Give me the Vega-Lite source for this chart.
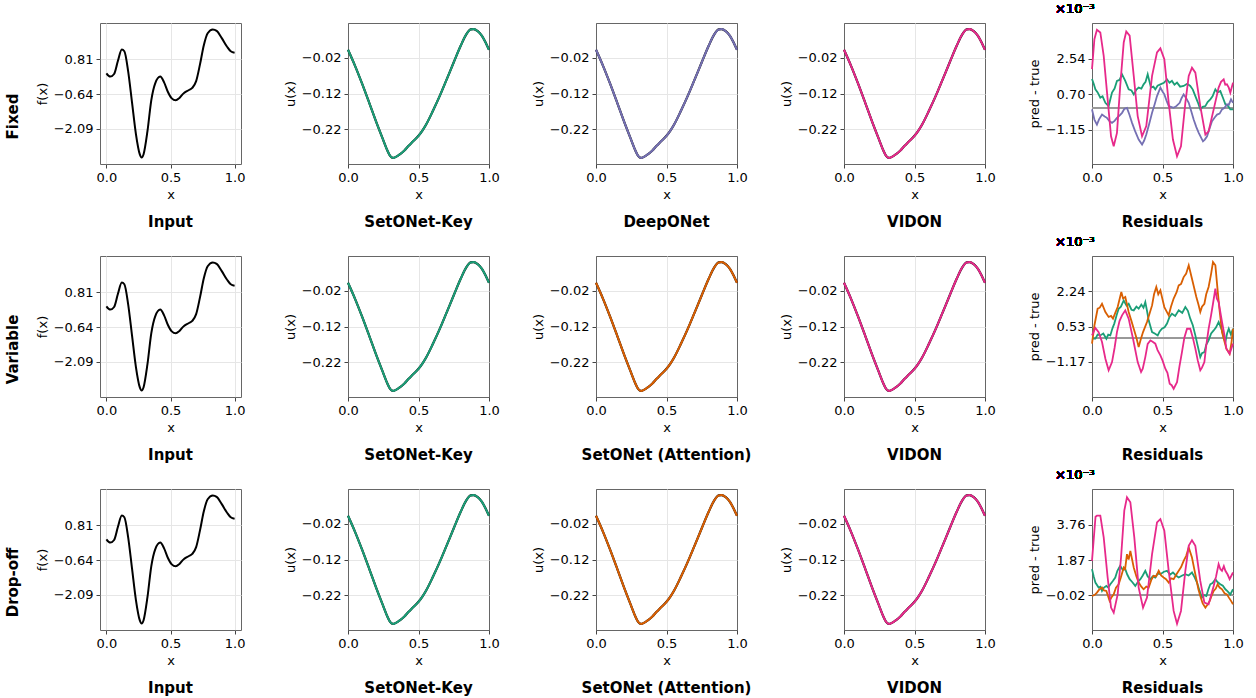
{
  "$schema": "https://vega.github.io/schema/vega-lite/v6.json",
  "background": "white",
  "padding": {"left": 5, "top": 2, "right": 5, "bottom": 5},
  "config": {
    "font": "DejaVu Sans",
    "view": {"stroke": "#666", "strokeWidth": 1},
    "axis": {"labelFont": "DejaVu Sans", "labelFontSize": 13, "labelColor": "black", "titleFont": "DejaVu Sans", "titleFontSize": 13, "titleFontWeight": "normal", "titleColor": "black", "tickColor": "#444", "tickSize": 4, "domain": false, "grid": true, "gridColor": "#e6e6e6", "labelPadding": 3, "labelFlush": false, "labelOverlap": false},
    "axisX": {"titlePadding": 4},
    "axisY": {"titlePadding": 4},
    "title": {"font": "DejaVu Sans", "fontSize": 15, "fontWeight": "bold", "color": "black"}
  },
  "datasets": {
    "input": [
      {"x": 0.0, "f": 0.23}, {"x": 0.03, "f": 0.09}, {"x": 0.06, "f": 0.2}, {"x": 0.09, "f": 0.75}, {"x": 0.12, "f": 1.22}, {"x": 0.14, "f": 1.15}, {"x": 0.17, "f": 0.3}, {"x": 0.2, "f": -1.0}, {"x": 0.23, "f": -2.3}, {"x": 0.26, "f": -3.15}, {"x": 0.275, "f": -3.29}, {"x": 0.29, "f": -3.15}, {"x": 0.32, "f": -2.2}, {"x": 0.35, "f": -0.9}, {"x": 0.38, "f": -0.2}, {"x": 0.42, "f": 0.09}, {"x": 0.45, "f": -0.15}, {"x": 0.48, "f": -0.55}, {"x": 0.51, "f": -0.82}, {"x": 0.54, "f": -0.9}, {"x": 0.57, "f": -0.8}, {"x": 0.6, "f": -0.62}, {"x": 0.64, "f": -0.48}, {"x": 0.67, "f": -0.38}, {"x": 0.7, "f": -0.1}, {"x": 0.73, "f": 0.6}, {"x": 0.76, "f": 1.4}, {"x": 0.79, "f": 1.9}, {"x": 0.83, "f": 2.06}, {"x": 0.86, "f": 2.0}, {"x": 0.9, "f": 1.7}, {"x": 0.94, "f": 1.35}, {"x": 0.97, "f": 1.15}, {"x": 1.0, "f": 1.09}
    ],
    "u": [
      {"x": 0.0, "u": 0.003}, {"x": 0.05, "u": -0.042}, {"x": 0.1, "u": -0.092}, {"x": 0.15, "u": -0.145}, {"x": 0.2, "u": -0.199}, {"x": 0.25, "u": -0.25}, {"x": 0.28, "u": -0.28}, {"x": 0.3, "u": -0.295}, {"x": 0.32, "u": -0.3}, {"x": 0.34, "u": -0.297}, {"x": 0.37, "u": -0.289}, {"x": 0.4, "u": -0.279}, {"x": 0.43, "u": -0.266}, {"x": 0.46, "u": -0.254}, {"x": 0.5, "u": -0.238}, {"x": 0.53, "u": -0.222}, {"x": 0.56, "u": -0.202}, {"x": 0.6, "u": -0.17}, {"x": 0.65, "u": -0.127}, {"x": 0.7, "u": -0.08}, {"x": 0.75, "u": -0.032}, {"x": 0.8, "u": 0.015}, {"x": 0.84, "u": 0.047}, {"x": 0.87, "u": 0.06}, {"x": 0.89, "u": 0.061}, {"x": 0.92, "u": 0.055}, {"x": 0.95, "u": 0.042}, {"x": 0.98, "u": 0.02}, {"x": 1.0, "u": 0.003}
    ],
    "res": [
      {"row": "Fixed", "model": "SetONet-Key", "x": 0, "r": 1.5}, {"row": "Fixed", "model": "SetONet-Key", "x": 0.012, "r": 1.25}, {"row": "Fixed", "model": "SetONet-Key", "x": 0.024, "r": 0.96}, {"row": "Fixed", "model": "SetONet-Key", "x": 0.04, "r": 0.8}, {"row": "Fixed", "model": "SetONet-Key", "x": 0.059, "r": 0.53}, {"row": "Fixed", "model": "SetONet-Key", "x": 0.075, "r": 0.6}, {"row": "Fixed", "model": "SetONet-Key", "x": 0.095, "r": 0.26}, {"row": "Fixed", "model": "SetONet-Key", "x": 0.118, "r": 0.09}, {"row": "Fixed", "model": "SetONet-Key", "x": 0.13, "r": 0.45}, {"row": "Fixed", "model": "SetONet-Key", "x": 0.142, "r": 0.79}, {"row": "Fixed", "model": "SetONet-Key", "x": 0.16, "r": 1.0}, {"row": "Fixed", "model": "SetONet-Key", "x": 0.177, "r": 1.4}, {"row": "Fixed", "model": "SetONet-Key", "x": 0.195, "r": 1.45}, {"row": "Fixed", "model": "SetONet-Key", "x": 0.213, "r": 1.74}, {"row": "Fixed", "model": "SetONet-Key", "x": 0.236, "r": 1.4}, {"row": "Fixed", "model": "SetONet-Key", "x": 0.26, "r": 0.96}, {"row": "Fixed", "model": "SetONet-Key", "x": 0.28, "r": 0.9}, {"row": "Fixed", "model": "SetONet-Key", "x": 0.296, "r": 0.7}, {"row": "Fixed", "model": "SetONet-Key", "x": 0.315, "r": 0.95}, {"row": "Fixed", "model": "SetONet-Key", "x": 0.331, "r": 1.05}, {"row": "Fixed", "model": "SetONet-Key", "x": 0.35, "r": 1.0}, {"row": "Fixed", "model": "SetONet-Key", "x": 0.366, "r": 1.22}, {"row": "Fixed", "model": "SetONet-Key", "x": 0.38, "r": 1.35}, {"row": "Fixed", "model": "SetONet-Key", "x": 0.395, "r": 1.74}, {"row": "Fixed", "model": "SetONet-Key", "x": 0.418, "r": 1.05}, {"row": "Fixed", "model": "SetONet-Key", "x": 0.435, "r": 1.1}, {"row": "Fixed", "model": "SetONet-Key", "x": 0.449, "r": 0.96}, {"row": "Fixed", "model": "SetONet-Key", "x": 0.465, "r": 1.15}, {"row": "Fixed", "model": "SetONet-Key", "x": 0.485, "r": 1.22}, {"row": "Fixed", "model": "SetONet-Key", "x": 0.51, "r": 1.3}, {"row": "Fixed", "model": "SetONet-Key", "x": 0.532, "r": 1.48}, {"row": "Fixed", "model": "SetONet-Key", "x": 0.55, "r": 1.3}, {"row": "Fixed", "model": "SetONet-Key", "x": 0.567, "r": 1.4}, {"row": "Fixed", "model": "SetONet-Key", "x": 0.585, "r": 1.2}, {"row": "Fixed", "model": "SetONet-Key", "x": 0.603, "r": 1.31}, {"row": "Fixed", "model": "SetONet-Key", "x": 0.625, "r": 1.1}, {"row": "Fixed", "model": "SetONet-Key", "x": 0.65, "r": 1.14}, {"row": "Fixed", "model": "SetONet-Key", "x": 0.675, "r": 1.25}, {"row": "Fixed", "model": "SetONet-Key", "x": 0.697, "r": 1.14}, {"row": "Fixed", "model": "SetONet-Key", "x": 0.715, "r": 0.95}, {"row": "Fixed", "model": "SetONet-Key", "x": 0.733, "r": 0.61}, {"row": "Fixed", "model": "SetONet-Key", "x": 0.75, "r": 0.3}, {"row": "Fixed", "model": "SetONet-Key", "x": 0.768, "r": -0.08}, {"row": "Fixed", "model": "SetONet-Key", "x": 0.785, "r": 0.05}, {"row": "Fixed", "model": "SetONet-Key", "x": 0.804, "r": 0.09}, {"row": "Fixed", "model": "SetONet-Key", "x": 0.82, "r": 0.3}, {"row": "Fixed", "model": "SetONet-Key", "x": 0.839, "r": 0.44}, {"row": "Fixed", "model": "SetONet-Key", "x": 0.855, "r": 0.6}, {"row": "Fixed", "model": "SetONet-Key", "x": 0.875, "r": 0.96}, {"row": "Fixed", "model": "SetONet-Key", "x": 0.89, "r": 0.8}, {"row": "Fixed", "model": "SetONet-Key", "x": 0.91, "r": 0.87}, {"row": "Fixed", "model": "SetONet-Key", "x": 0.93, "r": 0.5}, {"row": "Fixed", "model": "SetONet-Key", "x": 0.946, "r": 0.18}, {"row": "Fixed", "model": "SetONet-Key", "x": 0.965, "r": 0.1}, {"row": "Fixed", "model": "SetONet-Key", "x": 0.981, "r": -0.08}, {"row": "Fixed", "model": "SetONet-Key", "x": 1, "r": -0.08},
      {"row": "Fixed", "model": "DeepONet", "x": 0, "r": -0.08}, {"row": "Fixed", "model": "DeepONet", "x": 0.017, "r": -0.61}, {"row": "Fixed", "model": "DeepONet", "x": 0.035, "r": -0.87}, {"row": "Fixed", "model": "DeepONet", "x": 0.05, "r": -0.6}, {"row": "Fixed", "model": "DeepONet", "x": 0.071, "r": -0.35}, {"row": "Fixed", "model": "DeepONet", "x": 0.09, "r": -0.45}, {"row": "Fixed", "model": "DeepONet", "x": 0.106, "r": -0.52}, {"row": "Fixed", "model": "DeepONet", "x": 0.125, "r": -0.7}, {"row": "Fixed", "model": "DeepONet", "x": 0.142, "r": -0.78}, {"row": "Fixed", "model": "DeepONet", "x": 0.16, "r": -0.68}, {"row": "Fixed", "model": "DeepONet", "x": 0.177, "r": -0.52}, {"row": "Fixed", "model": "DeepONet", "x": 0.195, "r": -0.4}, {"row": "Fixed", "model": "DeepONet", "x": 0.213, "r": -0.26}, {"row": "Fixed", "model": "DeepONet", "x": 0.23, "r": -0.05}, {"row": "Fixed", "model": "DeepONet", "x": 0.248, "r": 0.0}, {"row": "Fixed", "model": "DeepONet", "x": 0.265, "r": -0.35}, {"row": "Fixed", "model": "DeepONet", "x": 0.284, "r": -0.78}, {"row": "Fixed", "model": "DeepONet", "x": 0.305, "r": -1.2}, {"row": "Fixed", "model": "DeepONet", "x": 0.331, "r": -1.65}, {"row": "Fixed", "model": "DeepONet", "x": 0.355, "r": -1.91}, {"row": "Fixed", "model": "DeepONet", "x": 0.37, "r": -1.7}, {"row": "Fixed", "model": "DeepONet", "x": 0.385, "r": -1.39}, {"row": "Fixed", "model": "DeepONet", "x": 0.405, "r": -0.85}, {"row": "Fixed", "model": "DeepONet", "x": 0.426, "r": -0.26}, {"row": "Fixed", "model": "DeepONet", "x": 0.445, "r": 0.2}, {"row": "Fixed", "model": "DeepONet", "x": 0.461, "r": 0.61}, {"row": "Fixed", "model": "DeepONet", "x": 0.485, "r": 1.05}, {"row": "Fixed", "model": "DeepONet", "x": 0.5, "r": 0.85}, {"row": "Fixed", "model": "DeepONet", "x": 0.513, "r": 0.7}, {"row": "Fixed", "model": "DeepONet", "x": 0.53, "r": 0.35}, {"row": "Fixed", "model": "DeepONet", "x": 0.544, "r": 0.09}, {"row": "Fixed", "model": "DeepONet", "x": 0.56, "r": 0.05}, {"row": "Fixed", "model": "DeepONet", "x": 0.579, "r": 0.0}, {"row": "Fixed", "model": "DeepONet", "x": 0.6, "r": 0.1}, {"row": "Fixed", "model": "DeepONet", "x": 0.622, "r": 0.26}, {"row": "Fixed", "model": "DeepONet", "x": 0.635, "r": 0.5}, {"row": "Fixed", "model": "DeepONet", "x": 0.65, "r": 0.7}, {"row": "Fixed", "model": "DeepONet", "x": 0.668, "r": 0.5}, {"row": "Fixed", "model": "DeepONet", "x": 0.686, "r": 0.26}, {"row": "Fixed", "model": "DeepONet", "x": 0.705, "r": -0.2}, {"row": "Fixed", "model": "DeepONet", "x": 0.721, "r": -0.61}, {"row": "Fixed", "model": "DeepONet", "x": 0.74, "r": -1.0}, {"row": "Fixed", "model": "DeepONet", "x": 0.757, "r": -1.3}, {"row": "Fixed", "model": "DeepONet", "x": 0.787, "r": -1.74}, {"row": "Fixed", "model": "DeepONet", "x": 0.8, "r": -1.65}, {"row": "Fixed", "model": "DeepONet", "x": 0.816, "r": -1.48}, {"row": "Fixed", "model": "DeepONet", "x": 0.835, "r": -1.05}, {"row": "Fixed", "model": "DeepONet", "x": 0.851, "r": -0.7}, {"row": "Fixed", "model": "DeepONet", "x": 0.87, "r": -0.5}, {"row": "Fixed", "model": "DeepONet", "x": 0.887, "r": -0.35}, {"row": "Fixed", "model": "DeepONet", "x": 0.905, "r": -0.3}, {"row": "Fixed", "model": "DeepONet", "x": 0.922, "r": -0.08}, {"row": "Fixed", "model": "DeepONet", "x": 0.94, "r": 0.0}, {"row": "Fixed", "model": "DeepONet", "x": 0.957, "r": 0.18}, {"row": "Fixed", "model": "DeepONet", "x": 0.97, "r": 0.15}, {"row": "Fixed", "model": "DeepONet", "x": 0.986, "r": 0.44}, {"row": "Fixed", "model": "DeepONet", "x": 1, "r": 0.26},
      {"row": "Fixed", "model": "VIDON", "x": 0, "r": 2.01}, {"row": "Fixed", "model": "VIDON", "x": 0.017, "r": 3.57}, {"row": "Fixed", "model": "VIDON", "x": 0.035, "r": 4.06}, {"row": "Fixed", "model": "VIDON", "x": 0.059, "r": 3.92}, {"row": "Fixed", "model": "VIDON", "x": 0.083, "r": 2.7}, {"row": "Fixed", "model": "VIDON", "x": 0.111, "r": 0.44}, {"row": "Fixed", "model": "VIDON", "x": 0.135, "r": -1.48}, {"row": "Fixed", "model": "VIDON", "x": 0.154, "r": -2.0}, {"row": "Fixed", "model": "VIDON", "x": 0.177, "r": -1.3}, {"row": "Fixed", "model": "VIDON", "x": 0.2, "r": 1.13}, {"row": "Fixed", "model": "VIDON", "x": 0.225, "r": 3.4}, {"row": "Fixed", "model": "VIDON", "x": 0.243, "r": 3.97}, {"row": "Fixed", "model": "VIDON", "x": 0.267, "r": 3.75}, {"row": "Fixed", "model": "VIDON", "x": 0.296, "r": 1.66}, {"row": "Fixed", "model": "VIDON", "x": 0.324, "r": -0.43}, {"row": "Fixed", "model": "VIDON", "x": 0.355, "r": -1.48}, {"row": "Fixed", "model": "VIDON", "x": 0.385, "r": -0.95}, {"row": "Fixed", "model": "VIDON", "x": 0.426, "r": 1.66}, {"row": "Fixed", "model": "VIDON", "x": 0.461, "r": 2.88}, {"row": "Fixed", "model": "VIDON", "x": 0.485, "r": 3.09}, {"row": "Fixed", "model": "VIDON", "x": 0.513, "r": 2.53}, {"row": "Fixed", "model": "VIDON", "x": 0.544, "r": 0.26}, {"row": "Fixed", "model": "VIDON", "x": 0.574, "r": -1.65}, {"row": "Fixed", "model": "VIDON", "x": 0.603, "r": -2.52}, {"row": "Fixed", "model": "VIDON", "x": 0.631, "r": -2.0}, {"row": "Fixed", "model": "VIDON", "x": 0.662, "r": 0.26}, {"row": "Fixed", "model": "VIDON", "x": 0.686, "r": 1.66}, {"row": "Fixed", "model": "VIDON", "x": 0.709, "r": 2.09}, {"row": "Fixed", "model": "VIDON", "x": 0.733, "r": 1.83}, {"row": "Fixed", "model": "VIDON", "x": 0.768, "r": 0.09}, {"row": "Fixed", "model": "VIDON", "x": 0.804, "r": -1.39}, {"row": "Fixed", "model": "VIDON", "x": 0.827, "r": -1.22}, {"row": "Fixed", "model": "VIDON", "x": 0.863, "r": -0.08}, {"row": "Fixed", "model": "VIDON", "x": 0.898, "r": 1.05}, {"row": "Fixed", "model": "VIDON", "x": 0.915, "r": 1.35}, {"row": "Fixed", "model": "VIDON", "x": 0.934, "r": 1.48}, {"row": "Fixed", "model": "VIDON", "x": 0.945, "r": 1.2}, {"row": "Fixed", "model": "VIDON", "x": 0.957, "r": 1.22}, {"row": "Fixed", "model": "VIDON", "x": 0.97, "r": 1.05}, {"row": "Fixed", "model": "VIDON", "x": 0.981, "r": 0.79}, {"row": "Fixed", "model": "VIDON", "x": 1, "r": 1.31},
      {"row": "Variable", "model": "SetONet-Key", "x": 0, "r": -0.05}, {"row": "Variable", "model": "SetONet-Key", "x": 0.024, "r": -0.05}, {"row": "Variable", "model": "SetONet-Key", "x": 0.04, "r": 0.15}, {"row": "Variable", "model": "SetONet-Key", "x": 0.059, "r": 0.11}, {"row": "Variable", "model": "SetONet-Key", "x": 0.08, "r": 0.2}, {"row": "Variable", "model": "SetONet-Key", "x": 0.102, "r": -0.05}, {"row": "Variable", "model": "SetONet-Key", "x": 0.115, "r": 0.15}, {"row": "Variable", "model": "SetONet-Key", "x": 0.13, "r": 0.11}, {"row": "Variable", "model": "SetONet-Key", "x": 0.145, "r": 0.45}, {"row": "Variable", "model": "SetONet-Key", "x": 0.158, "r": 0.68}, {"row": "Variable", "model": "SetONet-Key", "x": 0.175, "r": 1.1}, {"row": "Variable", "model": "SetONet-Key", "x": 0.189, "r": 1.4}, {"row": "Variable", "model": "SetONet-Key", "x": 0.205, "r": 1.5}, {"row": "Variable", "model": "SetONet-Key", "x": 0.225, "r": 1.8}, {"row": "Variable", "model": "SetONet-Key", "x": 0.245, "r": 1.55}, {"row": "Variable", "model": "SetONet-Key", "x": 0.26, "r": 1.64}, {"row": "Variable", "model": "SetONet-Key", "x": 0.28, "r": 1.35}, {"row": "Variable", "model": "SetONet-Key", "x": 0.296, "r": 1.32}, {"row": "Variable", "model": "SetONet-Key", "x": 0.315, "r": 1.5}, {"row": "Variable", "model": "SetONet-Key", "x": 0.331, "r": 1.4}, {"row": "Variable", "model": "SetONet-Key", "x": 0.35, "r": 1.6}, {"row": "Variable", "model": "SetONet-Key", "x": 0.365, "r": 1.45}, {"row": "Variable", "model": "SetONet-Key", "x": 0.378, "r": 1.72}, {"row": "Variable", "model": "SetONet-Key", "x": 0.39, "r": 1.3}, {"row": "Variable", "model": "SetONet-Key", "x": 0.402, "r": 0.84}, {"row": "Variable", "model": "SetONet-Key", "x": 0.426, "r": 0.27}, {"row": "Variable", "model": "SetONet-Key", "x": 0.445, "r": 0.2}, {"row": "Variable", "model": "SetONet-Key", "x": 0.466, "r": 0.11}, {"row": "Variable", "model": "SetONet-Key", "x": 0.48, "r": 0.3}, {"row": "Variable", "model": "SetONet-Key", "x": 0.496, "r": 0.43}, {"row": "Variable", "model": "SetONet-Key", "x": 0.515, "r": 0.5}, {"row": "Variable", "model": "SetONet-Key", "x": 0.532, "r": 0.68}, {"row": "Variable", "model": "SetONet-Key", "x": 0.55, "r": 1.0}, {"row": "Variable", "model": "SetONet-Key", "x": 0.567, "r": 1.16}, {"row": "Variable", "model": "SetONet-Key", "x": 0.59, "r": 1.05}, {"row": "Variable", "model": "SetONet-Key", "x": 0.615, "r": 1.32}, {"row": "Variable", "model": "SetONet-Key", "x": 0.64, "r": 1.2}, {"row": "Variable", "model": "SetONet-Key", "x": 0.662, "r": 1.48}, {"row": "Variable", "model": "SetONet-Key", "x": 0.68, "r": 1.3}, {"row": "Variable", "model": "SetONet-Key", "x": 0.697, "r": 0.92}, {"row": "Variable", "model": "SetONet-Key", "x": 0.715, "r": 0.6}, {"row": "Variable", "model": "SetONet-Key", "x": 0.733, "r": 0.11}, {"row": "Variable", "model": "SetONet-Key", "x": 0.75, "r": -0.4}, {"row": "Variable", "model": "SetONet-Key", "x": 0.768, "r": -0.94}, {"row": "Variable", "model": "SetONet-Key", "x": 0.78, "r": -0.75}, {"row": "Variable", "model": "SetONet-Key", "x": 0.797, "r": -0.7}, {"row": "Variable", "model": "SetONet-Key", "x": 0.81, "r": -0.35}, {"row": "Variable", "model": "SetONet-Key", "x": 0.827, "r": -0.13}, {"row": "Variable", "model": "SetONet-Key", "x": 0.845, "r": 0.2}, {"row": "Variable", "model": "SetONet-Key", "x": 0.863, "r": 0.35}, {"row": "Variable", "model": "SetONet-Key", "x": 0.88, "r": 0.5}, {"row": "Variable", "model": "SetONet-Key", "x": 0.898, "r": 0.76}, {"row": "Variable", "model": "SetONet-Key", "x": 0.91, "r": 0.55}, {"row": "Variable", "model": "SetONet-Key", "x": 0.922, "r": 0.35}, {"row": "Variable", "model": "SetONet-Key", "x": 0.935, "r": 0.0}, {"row": "Variable", "model": "SetONet-Key", "x": 0.946, "r": -0.21}, {"row": "Variable", "model": "SetONet-Key", "x": 0.958, "r": 0.2}, {"row": "Variable", "model": "SetONet-Key", "x": 0.97, "r": 0.43}, {"row": "Variable", "model": "SetONet-Key", "x": 0.985, "r": 0.15}, {"row": "Variable", "model": "SetONet-Key", "x": 1, "r": 0.43},
      {"row": "Variable", "model": "SetONet (Attention)", "x": 0, "r": -0.29}, {"row": "Variable", "model": "SetONet (Attention)", "x": 0.017, "r": 0.59}, {"row": "Variable", "model": "SetONet (Attention)", "x": 0.04, "r": 1.4}, {"row": "Variable", "model": "SetONet (Attention)", "x": 0.055, "r": 1.45}, {"row": "Variable", "model": "SetONet (Attention)", "x": 0.071, "r": 1.64}, {"row": "Variable", "model": "SetONet (Attention)", "x": 0.095, "r": 1.24}, {"row": "Variable", "model": "SetONet (Attention)", "x": 0.118, "r": 1.0}, {"row": "Variable", "model": "SetONet (Attention)", "x": 0.135, "r": 1.05}, {"row": "Variable", "model": "SetONet (Attention)", "x": 0.149, "r": 0.92}, {"row": "Variable", "model": "SetONet (Attention)", "x": 0.165, "r": 1.2}, {"row": "Variable", "model": "SetONet (Attention)", "x": 0.182, "r": 1.48}, {"row": "Variable", "model": "SetONet (Attention)", "x": 0.208, "r": 2.21}, {"row": "Variable", "model": "SetONet (Attention)", "x": 0.22, "r": 1.9}, {"row": "Variable", "model": "SetONet (Attention)", "x": 0.236, "r": 1.97}, {"row": "Variable", "model": "SetONet (Attention)", "x": 0.26, "r": 1.24}, {"row": "Variable", "model": "SetONet (Attention)", "x": 0.28, "r": 0.8}, {"row": "Variable", "model": "SetONet (Attention)", "x": 0.296, "r": 0.43}, {"row": "Variable", "model": "SetONet (Attention)", "x": 0.315, "r": 0.0}, {"row": "Variable", "model": "SetONet (Attention)", "x": 0.331, "r": -0.45}, {"row": "Variable", "model": "SetONet (Attention)", "x": 0.345, "r": -0.1}, {"row": "Variable", "model": "SetONet (Attention)", "x": 0.362, "r": 0.27}, {"row": "Variable", "model": "SetONet (Attention)", "x": 0.39, "r": 0.76}, {"row": "Variable", "model": "SetONet (Attention)", "x": 0.41, "r": 1.2}, {"row": "Variable", "model": "SetONet (Attention)", "x": 0.426, "r": 1.56}, {"row": "Variable", "model": "SetONet (Attention)", "x": 0.44, "r": 2.1}, {"row": "Variable", "model": "SetONet (Attention)", "x": 0.456, "r": 2.45}, {"row": "Variable", "model": "SetONet (Attention)", "x": 0.47, "r": 2.1}, {"row": "Variable", "model": "SetONet (Attention)", "x": 0.485, "r": 2.29}, {"row": "Variable", "model": "SetONet (Attention)", "x": 0.5, "r": 1.85}, {"row": "Variable", "model": "SetONet (Attention)", "x": 0.513, "r": 1.48}, {"row": "Variable", "model": "SetONet (Attention)", "x": 0.544, "r": 1.08}, {"row": "Variable", "model": "SetONet (Attention)", "x": 0.56, "r": 1.5}, {"row": "Variable", "model": "SetONet (Attention)", "x": 0.579, "r": 1.89}, {"row": "Variable", "model": "SetONet (Attention)", "x": 0.6, "r": 2.2}, {"row": "Variable", "model": "SetONet (Attention)", "x": 0.615, "r": 2.53}, {"row": "Variable", "model": "SetONet (Attention)", "x": 0.632, "r": 2.6}, {"row": "Variable", "model": "SetONet (Attention)", "x": 0.65, "r": 2.93}, {"row": "Variable", "model": "SetONet (Attention)", "x": 0.668, "r": 3.1}, {"row": "Variable", "model": "SetONet (Attention)", "x": 0.686, "r": 3.5}, {"row": "Variable", "model": "SetONet (Attention)", "x": 0.709, "r": 2.85}, {"row": "Variable", "model": "SetONet (Attention)", "x": 0.74, "r": 1.97}, {"row": "Variable", "model": "SetONet (Attention)", "x": 0.755, "r": 1.6}, {"row": "Variable", "model": "SetONet (Attention)", "x": 0.768, "r": 1.24}, {"row": "Variable", "model": "SetONet (Attention)", "x": 0.78, "r": 1.5}, {"row": "Variable", "model": "SetONet (Attention)", "x": 0.797, "r": 1.64}, {"row": "Variable", "model": "SetONet (Attention)", "x": 0.81, "r": 2.1}, {"row": "Variable", "model": "SetONet (Attention)", "x": 0.827, "r": 2.45}, {"row": "Variable", "model": "SetONet (Attention)", "x": 0.845, "r": 3.1}, {"row": "Variable", "model": "SetONet (Attention)", "x": 0.858, "r": 3.66}, {"row": "Variable", "model": "SetONet (Attention)", "x": 0.875, "r": 3.5}, {"row": "Variable", "model": "SetONet (Attention)", "x": 0.891, "r": 2.29}, {"row": "Variable", "model": "SetONet (Attention)", "x": 0.905, "r": 1.3}, {"row": "Variable", "model": "SetONet (Attention)", "x": 0.922, "r": 0.27}, {"row": "Variable", "model": "SetONet (Attention)", "x": 0.94, "r": -0.2}, {"row": "Variable", "model": "SetONet (Attention)", "x": 0.953, "r": -0.53}, {"row": "Variable", "model": "SetONet (Attention)", "x": 0.976, "r": -0.78}, {"row": "Variable", "model": "SetONet (Attention)", "x": 0.99, "r": -0.2}, {"row": "Variable", "model": "SetONet (Attention)", "x": 1, "r": 0.43},
      {"row": "Variable", "model": "VIDON", "x": 0, "r": 0.11}, {"row": "Variable", "model": "VIDON", "x": 0.024, "r": 0.47}, {"row": "Variable", "model": "VIDON", "x": 0.047, "r": 0.27}, {"row": "Variable", "model": "VIDON", "x": 0.071, "r": -0.21}, {"row": "Variable", "model": "VIDON", "x": 0.095, "r": -1.02}, {"row": "Variable", "model": "VIDON", "x": 0.118, "r": -1.58}, {"row": "Variable", "model": "VIDON", "x": 0.142, "r": -1.18}, {"row": "Variable", "model": "VIDON", "x": 0.16, "r": -0.5}, {"row": "Variable", "model": "VIDON", "x": 0.177, "r": 0.27}, {"row": "Variable", "model": "VIDON", "x": 0.195, "r": 0.8}, {"row": "Variable", "model": "VIDON", "x": 0.213, "r": 1.08}, {"row": "Variable", "model": "VIDON", "x": 0.236, "r": 1.32}, {"row": "Variable", "model": "VIDON", "x": 0.26, "r": 0.92}, {"row": "Variable", "model": "VIDON", "x": 0.291, "r": -0.05}, {"row": "Variable", "model": "VIDON", "x": 0.324, "r": -1.18}, {"row": "Variable", "model": "VIDON", "x": 0.348, "r": -1.66}, {"row": "Variable", "model": "VIDON", "x": 0.36, "r": -1.5}, {"row": "Variable", "model": "VIDON", "x": 0.378, "r": -0.94}, {"row": "Variable", "model": "VIDON", "x": 0.395, "r": -0.3}, {"row": "Variable", "model": "VIDON", "x": 0.414, "r": -0.13}, {"row": "Variable", "model": "VIDON", "x": 0.43, "r": -0.2}, {"row": "Variable", "model": "VIDON", "x": 0.449, "r": -0.29}, {"row": "Variable", "model": "VIDON", "x": 0.465, "r": -0.6}, {"row": "Variable", "model": "VIDON", "x": 0.485, "r": -0.86}, {"row": "Variable", "model": "VIDON", "x": 0.5, "r": -1.1}, {"row": "Variable", "model": "VIDON", "x": 0.52, "r": -1.5}, {"row": "Variable", "model": "VIDON", "x": 0.535, "r": -1.7}, {"row": "Variable", "model": "VIDON", "x": 0.551, "r": -2.23}, {"row": "Variable", "model": "VIDON", "x": 0.565, "r": -2.3}, {"row": "Variable", "model": "VIDON", "x": 0.579, "r": -2.47}, {"row": "Variable", "model": "VIDON", "x": 0.603, "r": -2.15}, {"row": "Variable", "model": "VIDON", "x": 0.62, "r": -1.4}, {"row": "Variable", "model": "VIDON", "x": 0.638, "r": -0.7}, {"row": "Variable", "model": "VIDON", "x": 0.655, "r": 0.0}, {"row": "Variable", "model": "VIDON", "x": 0.674, "r": 0.43}, {"row": "Variable", "model": "VIDON", "x": 0.697, "r": 0.43}, {"row": "Variable", "model": "VIDON", "x": 0.715, "r": 0.0}, {"row": "Variable", "model": "VIDON", "x": 0.733, "r": -0.53}, {"row": "Variable", "model": "VIDON", "x": 0.75, "r": -1.1}, {"row": "Variable", "model": "VIDON", "x": 0.768, "r": -1.58}, {"row": "Variable", "model": "VIDON", "x": 0.78, "r": -1.45}, {"row": "Variable", "model": "VIDON", "x": 0.797, "r": -1.18}, {"row": "Variable", "model": "VIDON", "x": 0.81, "r": -0.4}, {"row": "Variable", "model": "VIDON", "x": 0.827, "r": 0.43}, {"row": "Variable", "model": "VIDON", "x": 0.845, "r": 1.1}, {"row": "Variable", "model": "VIDON", "x": 0.858, "r": 1.64}, {"row": "Variable", "model": "VIDON", "x": 0.875, "r": 2.37}, {"row": "Variable", "model": "VIDON", "x": 0.885, "r": 1.9}, {"row": "Variable", "model": "VIDON", "x": 0.898, "r": 1.72}, {"row": "Variable", "model": "VIDON", "x": 0.922, "r": 0.76}, {"row": "Variable", "model": "VIDON", "x": 0.94, "r": 0.1}, {"row": "Variable", "model": "VIDON", "x": 0.953, "r": -0.53}, {"row": "Variable", "model": "VIDON", "x": 0.976, "r": -0.78}, {"row": "Variable", "model": "VIDON", "x": 1, "r": -0.29},
      {"row": "Drop-off", "model": "SetONet-Key", "x": 0, "r": 1.39}, {"row": "Drop-off", "model": "SetONet-Key", "x": 0.012, "r": 1.0}, {"row": "Drop-off", "model": "SetONet-Key", "x": 0.024, "r": 0.67}, {"row": "Drop-off", "model": "SetONet-Key", "x": 0.047, "r": 0.4}, {"row": "Drop-off", "model": "SetONet-Key", "x": 0.06, "r": 0.45}, {"row": "Drop-off", "model": "SetONet-Key", "x": 0.071, "r": 0.22}, {"row": "Drop-off", "model": "SetONet-Key", "x": 0.085, "r": 0.4}, {"row": "Drop-off", "model": "SetONet-Key", "x": 0.102, "r": 0.49}, {"row": "Drop-off", "model": "SetONet-Key", "x": 0.115, "r": 0.4}, {"row": "Drop-off", "model": "SetONet-Key", "x": 0.13, "r": 0.58}, {"row": "Drop-off", "model": "SetONet-Key", "x": 0.148, "r": 0.75}, {"row": "Drop-off", "model": "SetONet-Key", "x": 0.165, "r": 0.94}, {"row": "Drop-off", "model": "SetONet-Key", "x": 0.18, "r": 1.3}, {"row": "Drop-off", "model": "SetONet-Key", "x": 0.2, "r": 1.57}, {"row": "Drop-off", "model": "SetONet-Key", "x": 0.218, "r": 1.35}, {"row": "Drop-off", "model": "SetONet-Key", "x": 0.236, "r": 1.39}, {"row": "Drop-off", "model": "SetONet-Key", "x": 0.25, "r": 1.1}, {"row": "Drop-off", "model": "SetONet-Key", "x": 0.267, "r": 0.85}, {"row": "Drop-off", "model": "SetONet-Key", "x": 0.285, "r": 0.7}, {"row": "Drop-off", "model": "SetONet-Key", "x": 0.307, "r": 0.49}, {"row": "Drop-off", "model": "SetONet-Key", "x": 0.325, "r": 0.7}, {"row": "Drop-off", "model": "SetONet-Key", "x": 0.343, "r": 0.85}, {"row": "Drop-off", "model": "SetONet-Key", "x": 0.36, "r": 1.05}, {"row": "Drop-off", "model": "SetONet-Key", "x": 0.378, "r": 1.3}, {"row": "Drop-off", "model": "SetONet-Key", "x": 0.395, "r": 1.0}, {"row": "Drop-off", "model": "SetONet-Key", "x": 0.414, "r": 0.85}, {"row": "Drop-off", "model": "SetONet-Key", "x": 0.43, "r": 1.0}, {"row": "Drop-off", "model": "SetONet-Key", "x": 0.449, "r": 0.94}, {"row": "Drop-off", "model": "SetONet-Key", "x": 0.465, "r": 1.15}, {"row": "Drop-off", "model": "SetONet-Key", "x": 0.485, "r": 1.12}, {"row": "Drop-off", "model": "SetONet-Key", "x": 0.51, "r": 1.25}, {"row": "Drop-off", "model": "SetONet-Key", "x": 0.532, "r": 1.3}, {"row": "Drop-off", "model": "SetONet-Key", "x": 0.555, "r": 1.1}, {"row": "Drop-off", "model": "SetONet-Key", "x": 0.574, "r": 1.21}, {"row": "Drop-off", "model": "SetONet-Key", "x": 0.595, "r": 1.05}, {"row": "Drop-off", "model": "SetONet-Key", "x": 0.615, "r": 0.94}, {"row": "Drop-off", "model": "SetONet-Key", "x": 0.64, "r": 1.05}, {"row": "Drop-off", "model": "SetONet-Key", "x": 0.662, "r": 1.12}, {"row": "Drop-off", "model": "SetONet-Key", "x": 0.685, "r": 1.05}, {"row": "Drop-off", "model": "SetONet-Key", "x": 0.709, "r": 1.21}, {"row": "Drop-off", "model": "SetONet-Key", "x": 0.728, "r": 0.95}, {"row": "Drop-off", "model": "SetONet-Key", "x": 0.745, "r": 0.67}, {"row": "Drop-off", "model": "SetONet-Key", "x": 0.762, "r": 0.25}, {"row": "Drop-off", "model": "SetONet-Key", "x": 0.78, "r": -0.13}, {"row": "Drop-off", "model": "SetONet-Key", "x": 0.795, "r": 0.0}, {"row": "Drop-off", "model": "SetONet-Key", "x": 0.811, "r": -0.05}, {"row": "Drop-off", "model": "SetONet-Key", "x": 0.825, "r": 0.3}, {"row": "Drop-off", "model": "SetONet-Key", "x": 0.839, "r": 0.58}, {"row": "Drop-off", "model": "SetONet-Key", "x": 0.855, "r": 0.65}, {"row": "Drop-off", "model": "SetONet-Key", "x": 0.875, "r": 0.85}, {"row": "Drop-off", "model": "SetONet-Key", "x": 0.89, "r": 0.7}, {"row": "Drop-off", "model": "SetONet-Key", "x": 0.91, "r": 0.58}, {"row": "Drop-off", "model": "SetONet-Key", "x": 0.928, "r": 0.5}, {"row": "Drop-off", "model": "SetONet-Key", "x": 0.946, "r": 0.31}, {"row": "Drop-off", "model": "SetONet-Key", "x": 0.962, "r": 0.2}, {"row": "Drop-off", "model": "SetONet-Key", "x": 0.981, "r": 0.04}, {"row": "Drop-off", "model": "SetONet-Key", "x": 1, "r": 0.31},
      {"row": "Drop-off", "model": "SetONet (Attention)", "x": 0, "r": -0.05}, {"row": "Drop-off", "model": "SetONet (Attention)", "x": 0.018, "r": 0.0}, {"row": "Drop-off", "model": "SetONet (Attention)", "x": 0.035, "r": 0.13}, {"row": "Drop-off", "model": "SetONet (Attention)", "x": 0.052, "r": 0.3}, {"row": "Drop-off", "model": "SetONet (Attention)", "x": 0.071, "r": 0.4}, {"row": "Drop-off", "model": "SetONet (Attention)", "x": 0.085, "r": 0.25}, {"row": "Drop-off", "model": "SetONet (Attention)", "x": 0.102, "r": 0.22}, {"row": "Drop-off", "model": "SetONet (Attention)", "x": 0.125, "r": -0.31}, {"row": "Drop-off", "model": "SetONet (Attention)", "x": 0.14, "r": -0.1}, {"row": "Drop-off", "model": "SetONet (Attention)", "x": 0.154, "r": 0.04}, {"row": "Drop-off", "model": "SetONet (Attention)", "x": 0.17, "r": 0.4}, {"row": "Drop-off", "model": "SetONet (Attention)", "x": 0.189, "r": 0.58}, {"row": "Drop-off", "model": "SetONet (Attention)", "x": 0.205, "r": 0.95}, {"row": "Drop-off", "model": "SetONet (Attention)", "x": 0.225, "r": 1.48}, {"row": "Drop-off", "model": "SetONet (Attention)", "x": 0.235, "r": 1.4}, {"row": "Drop-off", "model": "SetONet (Attention)", "x": 0.248, "r": 2.19}, {"row": "Drop-off", "model": "SetONet (Attention)", "x": 0.26, "r": 1.9}, {"row": "Drop-off", "model": "SetONet (Attention)", "x": 0.272, "r": 2.37}, {"row": "Drop-off", "model": "SetONet (Attention)", "x": 0.296, "r": 1.48}, {"row": "Drop-off", "model": "SetONet (Attention)", "x": 0.315, "r": 1.0}, {"row": "Drop-off", "model": "SetONet (Attention)", "x": 0.331, "r": 0.67}, {"row": "Drop-off", "model": "SetONet (Attention)", "x": 0.35, "r": 0.45}, {"row": "Drop-off", "model": "SetONet (Attention)", "x": 0.366, "r": 0.31}, {"row": "Drop-off", "model": "SetONet (Attention)", "x": 0.385, "r": 0.45}, {"row": "Drop-off", "model": "SetONet (Attention)", "x": 0.402, "r": 0.4}, {"row": "Drop-off", "model": "SetONet (Attention)", "x": 0.42, "r": 0.8}, {"row": "Drop-off", "model": "SetONet (Attention)", "x": 0.437, "r": 1.03}, {"row": "Drop-off", "model": "SetONet (Attention)", "x": 0.455, "r": 1.0}, {"row": "Drop-off", "model": "SetONet (Attention)", "x": 0.473, "r": 1.3}, {"row": "Drop-off", "model": "SetONet (Attention)", "x": 0.49, "r": 1.05}, {"row": "Drop-off", "model": "SetONet (Attention)", "x": 0.508, "r": 0.94}, {"row": "Drop-off", "model": "SetONet (Attention)", "x": 0.525, "r": 0.85}, {"row": "Drop-off", "model": "SetONet (Attention)", "x": 0.544, "r": 0.67}, {"row": "Drop-off", "model": "SetONet (Attention)", "x": 0.56, "r": 0.9}, {"row": "Drop-off", "model": "SetONet (Attention)", "x": 0.579, "r": 0.85}, {"row": "Drop-off", "model": "SetONet (Attention)", "x": 0.598, "r": 1.1}, {"row": "Drop-off", "model": "SetONet (Attention)", "x": 0.615, "r": 1.3}, {"row": "Drop-off", "model": "SetONet (Attention)", "x": 0.632, "r": 1.5}, {"row": "Drop-off", "model": "SetONet (Attention)", "x": 0.65, "r": 1.83}, {"row": "Drop-off", "model": "SetONet (Attention)", "x": 0.668, "r": 2.1}, {"row": "Drop-off", "model": "SetONet (Attention)", "x": 0.686, "r": 2.55}, {"row": "Drop-off", "model": "SetONet (Attention)", "x": 0.709, "r": 2.01}, {"row": "Drop-off", "model": "SetONet (Attention)", "x": 0.725, "r": 1.4}, {"row": "Drop-off", "model": "SetONet (Attention)", "x": 0.74, "r": 0.85}, {"row": "Drop-off", "model": "SetONet (Attention)", "x": 0.755, "r": 0.3}, {"row": "Drop-off", "model": "SetONet (Attention)", "x": 0.768, "r": -0.05}, {"row": "Drop-off", "model": "SetONet (Attention)", "x": 0.785, "r": -0.45}, {"row": "Drop-off", "model": "SetONet (Attention)", "x": 0.804, "r": -0.67}, {"row": "Drop-off", "model": "SetONet (Attention)", "x": 0.82, "r": -0.5}, {"row": "Drop-off", "model": "SetONet (Attention)", "x": 0.835, "r": -0.31}, {"row": "Drop-off", "model": "SetONet (Attention)", "x": 0.85, "r": 0.0}, {"row": "Drop-off", "model": "SetONet (Attention)", "x": 0.863, "r": 0.22}, {"row": "Drop-off", "model": "SetONet (Attention)", "x": 0.878, "r": 0.35}, {"row": "Drop-off", "model": "SetONet (Attention)", "x": 0.891, "r": 0.58}, {"row": "Drop-off", "model": "SetONet (Attention)", "x": 0.905, "r": 0.4}, {"row": "Drop-off", "model": "SetONet (Attention)", "x": 0.922, "r": 0.31}, {"row": "Drop-off", "model": "SetONet (Attention)", "x": 0.94, "r": 0.1}, {"row": "Drop-off", "model": "SetONet (Attention)", "x": 0.957, "r": 0.04}, {"row": "Drop-off", "model": "SetONet (Attention)", "x": 0.972, "r": -0.15}, {"row": "Drop-off", "model": "SetONet (Attention)", "x": 0.986, "r": -0.31}, {"row": "Drop-off", "model": "SetONet (Attention)", "x": 1, "r": -0.49},
      {"row": "Drop-off", "model": "VIDON", "x": 0, "r": 1.83}, {"row": "Drop-off", "model": "VIDON", "x": 0.017, "r": 3.45}, {"row": "Drop-off", "model": "VIDON", "x": 0.025, "r": 4.2}, {"row": "Drop-off", "model": "VIDON", "x": 0.035, "r": 4.25}, {"row": "Drop-off", "model": "VIDON", "x": 0.059, "r": 4.25}, {"row": "Drop-off", "model": "VIDON", "x": 0.083, "r": 3.09}, {"row": "Drop-off", "model": "VIDON", "x": 0.111, "r": 0.94}, {"row": "Drop-off", "model": "VIDON", "x": 0.135, "r": -0.67}, {"row": "Drop-off", "model": "VIDON", "x": 0.154, "r": -0.94}, {"row": "Drop-off", "model": "VIDON", "x": 0.182, "r": 0.04}, {"row": "Drop-off", "model": "VIDON", "x": 0.206, "r": 2.01}, {"row": "Drop-off", "model": "VIDON", "x": 0.229, "r": 4.52}, {"row": "Drop-off", "model": "VIDON", "x": 0.248, "r": 5.24}, {"row": "Drop-off", "model": "VIDON", "x": 0.272, "r": 4.97}, {"row": "Drop-off", "model": "VIDON", "x": 0.3, "r": 3.09}, {"row": "Drop-off", "model": "VIDON", "x": 0.331, "r": 0.4}, {"row": "Drop-off", "model": "VIDON", "x": 0.362, "r": -0.67}, {"row": "Drop-off", "model": "VIDON", "x": 0.39, "r": -0.13}, {"row": "Drop-off", "model": "VIDON", "x": 0.426, "r": 2.19}, {"row": "Drop-off", "model": "VIDON", "x": 0.461, "r": 3.89}, {"row": "Drop-off", "model": "VIDON", "x": 0.485, "r": 4.07}, {"row": "Drop-off", "model": "VIDON", "x": 0.513, "r": 3.45}, {"row": "Drop-off", "model": "VIDON", "x": 0.544, "r": 1.3}, {"row": "Drop-off", "model": "VIDON", "x": 0.579, "r": -0.85}, {"row": "Drop-off", "model": "VIDON", "x": 0.603, "r": -1.53}, {"row": "Drop-off", "model": "VIDON", "x": 0.631, "r": -0.85}, {"row": "Drop-off", "model": "VIDON", "x": 0.662, "r": 1.3}, {"row": "Drop-off", "model": "VIDON", "x": 0.686, "r": 2.64}, {"row": "Drop-off", "model": "VIDON", "x": 0.709, "r": 2.94}, {"row": "Drop-off", "model": "VIDON", "x": 0.733, "r": 2.64}, {"row": "Drop-off", "model": "VIDON", "x": 0.768, "r": 0.76}, {"row": "Drop-off", "model": "VIDON", "x": 0.797, "r": -0.4}, {"row": "Drop-off", "model": "VIDON", "x": 0.827, "r": -0.49}, {"row": "Drop-off", "model": "VIDON", "x": 0.863, "r": 0.49}, {"row": "Drop-off", "model": "VIDON", "x": 0.88, "r": 1.0}, {"row": "Drop-off", "model": "VIDON", "x": 0.898, "r": 1.66}, {"row": "Drop-off", "model": "VIDON", "x": 0.91, "r": 1.4}, {"row": "Drop-off", "model": "VIDON", "x": 0.922, "r": 1.3}, {"row": "Drop-off", "model": "VIDON", "x": 0.935, "r": 1.55}, {"row": "Drop-off", "model": "VIDON", "x": 0.946, "r": 1.3}, {"row": "Drop-off", "model": "VIDON", "x": 0.962, "r": 1.1}, {"row": "Drop-off", "model": "VIDON", "x": 0.976, "r": 0.85}, {"row": "Drop-off", "model": "VIDON", "x": 1, "r": 1.21}
    ]
  },
  "spacing": 4,
  "vconcat": [
    {
      "title": {"text": "Fixed", "orient": "left", "anchor": "middle", "offset": 15},
      "bounds": "flush",
      "spacing": 107,
      "hconcat": [
        {"width": 141, "height": 141, "data": {"name": "input"}, "title": {"text": "Input", "orient": "bottom", "offset": 14},
         "mark": {"type": "line", "color": "black", "strokeWidth": 2, "interpolate": "monotone"},
         "encoding": {"x": {"field": "x", "type": "quantitative", "scale": {"domain": [-0.05, 1.05], "nice": false, "zero": false}, "axis": {"values": [0, 0.5, 1], "format": ".1f", "title": "x"}},
                      "y": {"field": "f", "type": "quantitative", "scale": {"domain": [-3.56, 2.33], "nice": false, "zero": false}, "axis": {"values": [0.81, -0.64, -2.09], "format": ".2f", "title": "f(x)"}}}},
        {"width": 141, "height": 141, "data": {"name": "u"}, "title": {"text": "SetONet-Key", "orient": "bottom", "offset": 14},
         "encoding": {"x": {"field": "x", "type": "quantitative", "scale": {"domain": [0, 1], "nice": false}, "axis": {"values": [0, 0.5, 1], "format": ".1f", "title": "x", "gridColor": {"condition": {"test": "datum.value === 0 || datum.value === 1", "value": "#666"}, "value": "#e6e6e6"}}},
                      "y": {"field": "u", "type": "quantitative", "scale": {"domain": [-0.317, 0.078], "nice": false, "zero": false}, "axis": {"values": [-0.02, -0.12, -0.22], "format": ".2f", "title": "u(x)"}}},
         "layer": [{"mark": {"type": "line", "color": "black", "strokeWidth": 2.2, "interpolate": "monotone"}}, {"mark": {"type": "line", "color": "#1b9e77", "strokeWidth": 2, "interpolate": "monotone"}}]},
        {"width": 141, "height": 141, "data": {"name": "u"}, "title": {"text": "DeepONet", "orient": "bottom", "offset": 14},
         "encoding": {"x": {"field": "x", "type": "quantitative", "scale": {"domain": [0, 1], "nice": false}, "axis": {"values": [0, 0.5, 1], "format": ".1f", "title": "x", "gridColor": {"condition": {"test": "datum.value === 0 || datum.value === 1", "value": "#666"}, "value": "#e6e6e6"}}},
                      "y": {"field": "u", "type": "quantitative", "scale": {"domain": [-0.317, 0.078], "nice": false, "zero": false}, "axis": {"values": [-0.02, -0.12, -0.22], "format": ".2f", "title": "u(x)"}}},
         "layer": [{"mark": {"type": "line", "color": "black", "strokeWidth": 2.2, "interpolate": "monotone"}}, {"mark": {"type": "line", "color": "#7570b3", "strokeWidth": 2, "interpolate": "monotone"}}]},
        {"width": 141, "height": 141, "data": {"name": "u"}, "title": {"text": "VIDON", "orient": "bottom", "offset": 14},
         "encoding": {"x": {"field": "x", "type": "quantitative", "scale": {"domain": [0, 1], "nice": false}, "axis": {"values": [0, 0.5, 1], "format": ".1f", "title": "x", "gridColor": {"condition": {"test": "datum.value === 0 || datum.value === 1", "value": "#666"}, "value": "#e6e6e6"}}},
                      "y": {"field": "u", "type": "quantitative", "scale": {"domain": [-0.317, 0.078], "nice": false, "zero": false}, "axis": {"values": [-0.02, -0.12, -0.22], "format": ".2f", "title": "u(x)"}}},
         "layer": [{"mark": {"type": "line", "color": "black", "strokeWidth": 2.2, "interpolate": "monotone"}}, {"mark": {"type": "line", "color": "#e7298a", "strokeWidth": 2, "interpolate": "monotone"}}]},
        {"width": 141, "height": 141, "data": {"name": "res"}, "transform": [{"filter": "datum.row === 'Fixed'"}], "title": {"text": "Residuals", "orient": "bottom", "offset": 14},
         "layer": [
           {"mark": {"type": "rule", "color": "#999", "strokeWidth": 1.2}, "encoding": {"y": {"datum": 0, "type": "quantitative", "scale": {"domain": [-2.92, 4.41], "nice": false, "zero": false}, "axis": {"values": [2.54, 0.7, -1.15], "format": ".2f", "title": "pred - true"}}}},
           {"mark": {"type": "line", "strokeWidth": 1.8}, "encoding": {
             "x": {"field": "x", "type": "quantitative", "scale": {"domain": [0, 1], "nice": false}, "axis": {"values": [0, 0.5, 1], "format": ".1f", "title": "x", "gridColor": {"condition": {"test": "datum.value === 0 || datum.value === 1", "value": "#666"}, "value": "#e6e6e6"}}},
             "y": {"field": "r", "type": "quantitative", "scale": {"domain": [-2.92, 4.41], "nice": false, "zero": false}, "axis": {"values": [2.54, 0.7, -1.15], "format": ".2f", "title": "pred - true"}},
             "color": {"field": "model", "type": "nominal", "sort": null, "scale": {"domain": ["SetONet-Key", "DeepONet", "VIDON", "SetONet (Attention)"], "range": ["#1b9e77", "#7570b3", "#e7298a", "#d95f02"]}, "legend": null}}},
           {"mark": {"type": "text", "text": "×10⁻³", "align": "left", "baseline": "middle", "dx": -37, "dy": -14, "fontSize": 13, "fontWeight": "normal", "color": "black"}, "encoding": {"x": {"datum": 0, "type": "quantitative", "scale": {"domain": [0, 1], "nice": false}, "axis": {"values": [0, 0.5, 1], "format": ".1f", "title": "x", "gridColor": {"condition": {"test": "datum.value === 0 || datum.value === 1", "value": "#666"}, "value": "#e6e6e6"}}}, "y": {"datum": 4.41, "type": "quantitative", "scale": {"domain": [-2.92, 4.41], "nice": false, "zero": false}, "axis": {"values": [2.54, 0.7, -1.15], "format": ".2f", "title": "pred - true"}}}}
         ]}
      ]
    },
    {
      "title": {"text": "Variable", "orient": "left", "anchor": "middle", "offset": 15},
      "bounds": "flush",
      "spacing": 107,
      "hconcat": [
        {"width": 141, "height": 141, "data": {"name": "input"}, "title": {"text": "Input", "orient": "bottom", "offset": 14},
         "mark": {"type": "line", "color": "black", "strokeWidth": 2, "interpolate": "monotone"},
         "encoding": {"x": {"field": "x", "type": "quantitative", "scale": {"domain": [-0.05, 1.05], "nice": false, "zero": false}, "axis": {"values": [0, 0.5, 1], "format": ".1f", "title": "x"}},
                      "y": {"field": "f", "type": "quantitative", "scale": {"domain": [-3.56, 2.33], "nice": false, "zero": false}, "axis": {"values": [0.81, -0.64, -2.09], "format": ".2f", "title": "f(x)"}}}},
        {"width": 141, "height": 141, "data": {"name": "u"}, "title": {"text": "SetONet-Key", "orient": "bottom", "offset": 14},
         "encoding": {"x": {"field": "x", "type": "quantitative", "scale": {"domain": [0, 1], "nice": false}, "axis": {"values": [0, 0.5, 1], "format": ".1f", "title": "x", "gridColor": {"condition": {"test": "datum.value === 0 || datum.value === 1", "value": "#666"}, "value": "#e6e6e6"}}},
                      "y": {"field": "u", "type": "quantitative", "scale": {"domain": [-0.317, 0.078], "nice": false, "zero": false}, "axis": {"values": [-0.02, -0.12, -0.22], "format": ".2f", "title": "u(x)"}}},
         "layer": [{"mark": {"type": "line", "color": "black", "strokeWidth": 2.2, "interpolate": "monotone"}}, {"mark": {"type": "line", "color": "#1b9e77", "strokeWidth": 2, "interpolate": "monotone"}}]},
        {"width": 141, "height": 141, "data": {"name": "u"}, "title": {"text": "SetONet (Attention)", "orient": "bottom", "offset": 14},
         "encoding": {"x": {"field": "x", "type": "quantitative", "scale": {"domain": [0, 1], "nice": false}, "axis": {"values": [0, 0.5, 1], "format": ".1f", "title": "x", "gridColor": {"condition": {"test": "datum.value === 0 || datum.value === 1", "value": "#666"}, "value": "#e6e6e6"}}},
                      "y": {"field": "u", "type": "quantitative", "scale": {"domain": [-0.317, 0.078], "nice": false, "zero": false}, "axis": {"values": [-0.02, -0.12, -0.22], "format": ".2f", "title": "u(x)"}}},
         "layer": [{"mark": {"type": "line", "color": "black", "strokeWidth": 2.2, "interpolate": "monotone"}}, {"mark": {"type": "line", "color": "#d95f02", "strokeWidth": 2, "interpolate": "monotone"}}]},
        {"width": 141, "height": 141, "data": {"name": "u"}, "title": {"text": "VIDON", "orient": "bottom", "offset": 14},
         "encoding": {"x": {"field": "x", "type": "quantitative", "scale": {"domain": [0, 1], "nice": false}, "axis": {"values": [0, 0.5, 1], "format": ".1f", "title": "x", "gridColor": {"condition": {"test": "datum.value === 0 || datum.value === 1", "value": "#666"}, "value": "#e6e6e6"}}},
                      "y": {"field": "u", "type": "quantitative", "scale": {"domain": [-0.317, 0.078], "nice": false, "zero": false}, "axis": {"values": [-0.02, -0.12, -0.22], "format": ".2f", "title": "u(x)"}}},
         "layer": [{"mark": {"type": "line", "color": "black", "strokeWidth": 2.2, "interpolate": "monotone"}}, {"mark": {"type": "line", "color": "#e7298a", "strokeWidth": 2, "interpolate": "monotone"}}]},
        {"width": 141, "height": 141, "data": {"name": "res"}, "transform": [{"filter": "datum.row === 'Variable'"}], "title": {"text": "Residuals", "orient": "bottom", "offset": 14},
         "layer": [
           {"mark": {"type": "rule", "color": "#999", "strokeWidth": 1.2}, "encoding": {"y": {"datum": 0, "type": "quantitative", "scale": {"domain": [-2.87, 3.95], "nice": false, "zero": false}, "axis": {"values": [2.24, 0.53, -1.17], "format": ".2f", "title": "pred - true"}}}},
           {"mark": {"type": "line", "strokeWidth": 1.8}, "encoding": {
             "x": {"field": "x", "type": "quantitative", "scale": {"domain": [0, 1], "nice": false}, "axis": {"values": [0, 0.5, 1], "format": ".1f", "title": "x", "gridColor": {"condition": {"test": "datum.value === 0 || datum.value === 1", "value": "#666"}, "value": "#e6e6e6"}}},
             "y": {"field": "r", "type": "quantitative", "scale": {"domain": [-2.87, 3.95], "nice": false, "zero": false}, "axis": {"values": [2.24, 0.53, -1.17], "format": ".2f", "title": "pred - true"}},
             "color": {"field": "model", "type": "nominal", "sort": null, "scale": {"domain": ["SetONet-Key", "DeepONet", "VIDON", "SetONet (Attention)"], "range": ["#1b9e77", "#7570b3", "#e7298a", "#d95f02"]}, "legend": null}}},
           {"mark": {"type": "text", "text": "×10⁻³", "align": "left", "baseline": "middle", "dx": -37, "dy": -14, "fontSize": 13, "fontWeight": "normal", "color": "black"}, "encoding": {"x": {"datum": 0, "type": "quantitative", "scale": {"domain": [0, 1], "nice": false}, "axis": {"values": [0, 0.5, 1], "format": ".1f", "title": "x", "gridColor": {"condition": {"test": "datum.value === 0 || datum.value === 1", "value": "#666"}, "value": "#e6e6e6"}}}, "y": {"datum": 3.95, "type": "quantitative", "scale": {"domain": [-2.87, 3.95], "nice": false, "zero": false}, "axis": {"values": [2.24, 0.53, -1.17], "format": ".2f", "title": "pred - true"}}}}
         ]}
      ]
    },
    {
      "title": {"text": "Drop-off", "orient": "left", "anchor": "middle", "offset": 15},
      "bounds": "flush",
      "spacing": 107,
      "hconcat": [
        {"width": 141, "height": 141, "data": {"name": "input"}, "title": {"text": "Input", "orient": "bottom", "offset": 14},
         "mark": {"type": "line", "color": "black", "strokeWidth": 2, "interpolate": "monotone"},
         "encoding": {"x": {"field": "x", "type": "quantitative", "scale": {"domain": [-0.05, 1.05], "nice": false, "zero": false}, "axis": {"values": [0, 0.5, 1], "format": ".1f", "title": "x"}},
                      "y": {"field": "f", "type": "quantitative", "scale": {"domain": [-3.56, 2.33], "nice": false, "zero": false}, "axis": {"values": [0.81, -0.64, -2.09], "format": ".2f", "title": "f(x)"}}}},
        {"width": 141, "height": 141, "data": {"name": "u"}, "title": {"text": "SetONet-Key", "orient": "bottom", "offset": 14},
         "encoding": {"x": {"field": "x", "type": "quantitative", "scale": {"domain": [0, 1], "nice": false}, "axis": {"values": [0, 0.5, 1], "format": ".1f", "title": "x", "gridColor": {"condition": {"test": "datum.value === 0 || datum.value === 1", "value": "#666"}, "value": "#e6e6e6"}}},
                      "y": {"field": "u", "type": "quantitative", "scale": {"domain": [-0.317, 0.078], "nice": false, "zero": false}, "axis": {"values": [-0.02, -0.12, -0.22], "format": ".2f", "title": "u(x)"}}},
         "layer": [{"mark": {"type": "line", "color": "black", "strokeWidth": 2.2, "interpolate": "monotone"}}, {"mark": {"type": "line", "color": "#1b9e77", "strokeWidth": 2, "interpolate": "monotone"}}]},
        {"width": 141, "height": 141, "data": {"name": "u"}, "title": {"text": "SetONet (Attention)", "orient": "bottom", "offset": 14},
         "encoding": {"x": {"field": "x", "type": "quantitative", "scale": {"domain": [0, 1], "nice": false}, "axis": {"values": [0, 0.5, 1], "format": ".1f", "title": "x", "gridColor": {"condition": {"test": "datum.value === 0 || datum.value === 1", "value": "#666"}, "value": "#e6e6e6"}}},
                      "y": {"field": "u", "type": "quantitative", "scale": {"domain": [-0.317, 0.078], "nice": false, "zero": false}, "axis": {"values": [-0.02, -0.12, -0.22], "format": ".2f", "title": "u(x)"}}},
         "layer": [{"mark": {"type": "line", "color": "black", "strokeWidth": 2.2, "interpolate": "monotone"}}, {"mark": {"type": "line", "color": "#d95f02", "strokeWidth": 2, "interpolate": "monotone"}}]},
        {"width": 141, "height": 141, "data": {"name": "u"}, "title": {"text": "VIDON", "orient": "bottom", "offset": 14},
         "encoding": {"x": {"field": "x", "type": "quantitative", "scale": {"domain": [0, 1], "nice": false}, "axis": {"values": [0, 0.5, 1], "format": ".1f", "title": "x", "gridColor": {"condition": {"test": "datum.value === 0 || datum.value === 1", "value": "#666"}, "value": "#e6e6e6"}}},
                      "y": {"field": "u", "type": "quantitative", "scale": {"domain": [-0.317, 0.078], "nice": false, "zero": false}, "axis": {"values": [-0.02, -0.12, -0.22], "format": ".2f", "title": "u(x)"}}},
         "layer": [{"mark": {"type": "line", "color": "black", "strokeWidth": 2.2, "interpolate": "monotone"}}, {"mark": {"type": "line", "color": "#e7298a", "strokeWidth": 2, "interpolate": "monotone"}}]},
        {"width": 141, "height": 141, "data": {"name": "res"}, "transform": [{"filter": "datum.row === 'Drop-off'"}], "title": {"text": "Residuals", "orient": "bottom", "offset": 14},
         "layer": [
           {"mark": {"type": "rule", "color": "#999", "strokeWidth": 1.2}, "encoding": {"y": {"datum": 0, "type": "quantitative", "scale": {"domain": [-1.87, 5.68], "nice": false, "zero": false}, "axis": {"values": [3.76, 1.87, -0.02], "format": ".2f", "title": "pred - true"}}}},
           {"mark": {"type": "line", "strokeWidth": 1.8}, "encoding": {
             "x": {"field": "x", "type": "quantitative", "scale": {"domain": [0, 1], "nice": false}, "axis": {"values": [0, 0.5, 1], "format": ".1f", "title": "x", "gridColor": {"condition": {"test": "datum.value === 0 || datum.value === 1", "value": "#666"}, "value": "#e6e6e6"}}},
             "y": {"field": "r", "type": "quantitative", "scale": {"domain": [-1.87, 5.68], "nice": false, "zero": false}, "axis": {"values": [3.76, 1.87, -0.02], "format": ".2f", "title": "pred - true"}},
             "color": {"field": "model", "type": "nominal", "sort": null, "scale": {"domain": ["SetONet-Key", "DeepONet", "VIDON", "SetONet (Attention)"], "range": ["#1b9e77", "#7570b3", "#e7298a", "#d95f02"]}, "legend": null}}},
           {"mark": {"type": "text", "text": "×10⁻³", "align": "left", "baseline": "middle", "dx": -37, "dy": -14, "fontSize": 13, "fontWeight": "normal", "color": "black"}, "encoding": {"x": {"datum": 0, "type": "quantitative", "scale": {"domain": [0, 1], "nice": false}, "axis": {"values": [0, 0.5, 1], "format": ".1f", "title": "x", "gridColor": {"condition": {"test": "datum.value === 0 || datum.value === 1", "value": "#666"}, "value": "#e6e6e6"}}}, "y": {"datum": 5.68, "type": "quantitative", "scale": {"domain": [-1.87, 5.68], "nice": false, "zero": false}, "axis": {"values": [3.76, 1.87, -0.02], "format": ".2f", "title": "pred - true"}}}}
         ]}
      ]
    }
  ]
}
